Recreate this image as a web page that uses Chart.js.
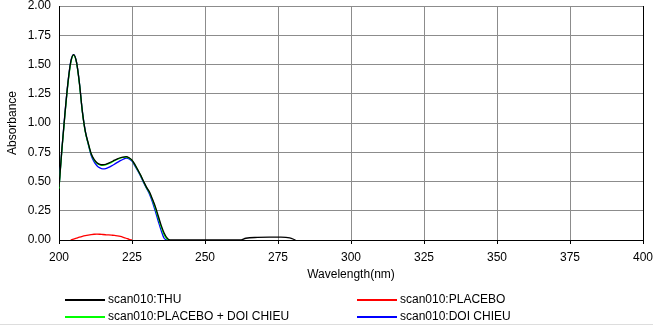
<!DOCTYPE html>
<html>
<head>
<meta charset="utf-8">
<script src="https://cdn.jsdelivr.net/npm/chart.js@4/dist/chart.umd.min.js"></script>
<style>
    body { margin: 0; background: #fff; }
    #wrap { position: relative; width: 653px; height: 327px; }
    #legend { position: absolute; left: 0; top: 291px; width: 653px; height: 33px;
              border-bottom: 1px solid #ddd; font: 12px "Liberation Sans", Arial, sans-serif; }
    .item { position: absolute; height: 17px; line-height: 17px; white-space: nowrap; color: #000; padding-left: 43px; }
    .item i { position: absolute; left: 0; top: 8px; width: 40px; height: 2px; }
</style>
</head>
<body>
<div id="wrap">
    <canvas id="spectrum" width="653" height="327"></canvas>
    <div id="legend"></div>
</div>
<script>
// 波长 (nm)
const wavelength = [200, 201, 202, 203, 204, 205, 206, 207, 208, 209, 210,
    211, 212, 213, 214, 215, 216, 217, 218, 219, 220,
    221, 222, 223, 224, 225, 226, 227, 228, 229, 230,
    231, 232, 233, 234, 235, 236, 237, 238,
    262, 264, 268, 272, 276, 279, 281];

// 各样品吸光度
const thu = [0.45, 0.78, 1.07, 1.33, 1.52, 1.585, 1.52, 1.34, 1.10, 0.93, 0.83,
    0.74, 0.69, 0.66, 0.647, 0.643, 0.647, 0.657, 0.669, 0.682, 0.694,
    0.703, 0.709, 0.712, 0.703, 0.683, 0.645, 0.600, 0.553, 0.500, 0.450,
    0.410, 0.350, 0.285, 0.205, 0.125, 0.060, 0.018, 0,
    0, 0.015, 0.022, 0.024, 0.024, 0.018, 0];

const placebo = [null, null, null, null, 0, 0.008, 0.016, 0.024, 0.031, 0.037, 0.042,
    0.046, 0.049, 0.050, 0.049, 0.047, 0.045, 0.043, 0.041, 0.039, 0.035,
    0.030, 0.023, 0.015, 0.006, 0, null, null, null, null, null,
    null, null, null, null, null, null, null, null,
    null, null, null, null, null, null, null];

const placeboDoiChieu = [0.44, 0.77, 1.06, 1.32, 1.51, 1.58, 1.515, 1.335, 1.095, 0.925, 0.825,
    0.735, 0.685, 0.655, 0.642, 0.638, 0.642, 0.652, 0.664, 0.678, 0.690,
    0.700, 0.706, 0.708, 0.700, 0.680, 0.642, 0.597, 0.550, 0.496, 0.446,
    0.404, 0.342, 0.272, 0.190, 0.110, 0.045, 0.008, 0,
    null, null, null, null, null, null, null];

const doiChieu = [0.45, 0.78, 1.07, 1.33, 1.52, 1.585, 1.52, 1.34, 1.10, 0.93, 0.82,
    0.725, 0.67, 0.635, 0.616, 0.608, 0.611, 0.620, 0.633, 0.648, 0.663,
    0.678, 0.690, 0.699, 0.694, 0.674, 0.634, 0.590, 0.543, 0.490, 0.440,
    0.392, 0.325, 0.245, 0.160, 0.080, 0.015, 0, null,
    null, null, null, null, null, null, null];

const seriesNames = ['scan010:THU', 'scan010:PLACEBO', 'scan010:PLACEBO + DOI CHIEU', 'scan010:DOI CHIEU'];
const seriesColors = ['#000000', '#ff0000', '#00ff00', '#0000ff'];
const seriesValues = [thu, placebo, placeboDoiChieu, doiChieu];

const xTicks = [200, 225, 250, 275, 300, 325, 350, 375, 400];
const yTicks = [0, 0.25, 0.5, 0.75, 1, 1.25, 1.5, 1.75, 2];

const fontName = '"Liberation Sans", Arial, sans-serif';
const gridGray = '#8c8c8c';

function toPoints(values) {
    return wavelength.map((w, i) => ({ x: w, y: values[i] }));
}

// 右侧黑色边框
const rightBorder = {
    id: 'rightBorder',
    afterDraw(chart) {
        const a = chart.chartArea;
        const ctx = chart.ctx;
        ctx.save();
        ctx.strokeStyle = '#000';
        ctx.lineWidth = 1;
        ctx.beginPath();
        ctx.moveTo(Math.round(a.right) + 0.5, a.top);
        ctx.lineTo(Math.round(a.right) + 0.5, a.bottom);
        ctx.stroke();
        ctx.restore();
    }
};

new Chart(document.getElementById('spectrum').getContext('2d'), {
    type: 'line',
    data: {
        datasets: seriesValues.map((values, i) => ({
            label: seriesNames[i],
            data: toPoints(values),
            borderColor: seriesColors[i],
            borderWidth: 1.3,
            pointRadius: 0,
            fill: false,
            spanGaps: false,
            cubicInterpolationMode: 'monotone'
        }))
    },
    options: {
        responsive: false,
        animation: false,
        layout: { padding: { top: 0, right: 0, bottom: 45, left: 0 } },
        plugins: {
            legend: { display: false },
            tooltip: { enabled: false }
        },
        scales: {
            x: {
                type: 'linear',
                min: 200,
                max: 400,
                afterBuildTicks: scale => { scale.ticks = xTicks.map(v => ({ value: v })); },
                afterFit: scale => { scale.height = 42; scale.paddingRight = 10; },
                ticks: { color: '#000', font: { family: fontName, size: 12 }, padding: 6, maxRotation: 0 },
                grid: { color: gridGray, tickColor: '#000', tickLength: 4 },
                border: { color: '#000' },
                title: { display: true, text: 'Wavelength(nm)', color: '#000',
                         font: { family: fontName, size: 12 }, padding: { top: 0, bottom: 0 } }
            },
            y: {
                min: 0,
                max: 2,
                afterBuildTicks: scale => { scale.ticks = yTicks.map(v => ({ value: v })); },
                afterFit: scale => { scale.width = 59; scale.paddingTop = 6; },
                ticks: { color: '#000', font: { family: fontName, size: 12 }, padding: 8,
                         callback: v => Number(v).toFixed(2) },
                grid: { color: gridGray, drawTicks: false },
                border: { color: '#000' },
                title: { display: true, text: 'Absorbance', color: '#000',
                         font: { family: fontName, size: 12 }, padding: { top: 5, bottom: 0 } }
            }
        }
    },
    plugins: [rightBorder]
});

// 图例（两列）
const legend = document.getElementById('legend');
const legendPos = [[65, 0], [357, 0], [65, 17], [357, 17]];
seriesNames.forEach((name, i) => {
    const item = document.createElement('div');
    item.className = 'item';
    item.style.left = legendPos[i][0] + 'px';
    item.style.top = legendPos[i][1] + 'px';
    item.innerHTML = '<i style="background:' + seriesColors[i] + '"></i>' + name;
    legend.appendChild(item);
});
</script>
</body>
</html>
